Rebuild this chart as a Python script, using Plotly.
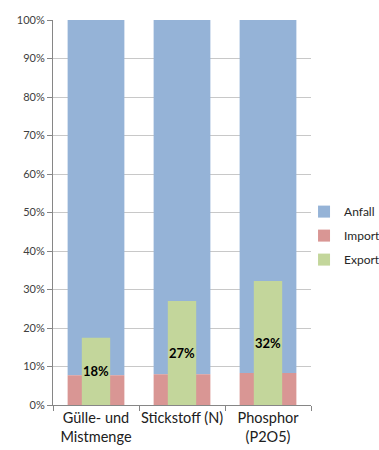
import plotly.graph_objects as go

categories = ["Gülle- und<br>Mistmenge", "Stickstoff (N)", "Phosphor<br>(P2O5)"]
import_vals = [7.7, 8.0, 8.3]
anfall_vals = [100 - v for v in import_vals]
export_vals = [17.5, 27.0, 32.2]
export_labels = ["18%", "27%", "32%"]

FONT = "Lato"

fig = go.Figure()
fig.add_trace(go.Bar(
    name="Anfall", x=categories, y=anfall_vals, base=import_vals,
    width=0.66, marker=dict(color="#95B3D7", line=dict(width=0)),
    legendgroup="a", hoverinfo="skip"))
fig.add_trace(go.Bar(
    name="Import", x=categories, y=import_vals,
    width=0.66, marker=dict(color="#D99694", line=dict(width=0)),
    legendgroup="b", hoverinfo="skip"))
fig.add_trace(go.Bar(
    name="Export", x=categories, y=export_vals,
    width=0.33, marker=dict(color="#C3D69B", line=dict(width=0)),
    text=export_labels, textposition="inside", insidetextanchor="middle",
    textangle=0, constraintext="none",
    textfont=dict(family=FONT, size=13, color="black", weight="bold"),
    legendgroup="c", hoverinfo="skip"))

fig.update_layout(
    barmode="overlay",
    width=379, height=450,
    margin=dict(l=53, r=68, t=20, b=45, autoexpand=False),
    paper_bgcolor="white", plot_bgcolor="white",
    font=dict(family=FONT, color="#404040"),
    showlegend=True,
    legend=dict(x=0.973, xanchor="left", y=0.44, yanchor="middle",
                font=dict(size=12, color="#262626"),
                tracegroupgap=5, itemwidth=30,
                bgcolor="rgba(0,0,0,0)"),
    xaxis=dict(type="category", range=[-0.5, 2.5], tickson="boundaries",
               ticks="outside", ticklen=5, tickcolor="#868686",
               showline=True, linecolor="#868686", linewidth=1,
               tickangle=0, automargin=False,
               tickfont=dict(size=14.5, color="#202020"), showgrid=False),
    yaxis=dict(range=[0, 100], dtick=10, ticksuffix="%",
               ticks="outside", ticklen=5, tickcolor="#868686",
               showline=True, linecolor="#868686", linewidth=1,
               showgrid=True, gridcolor="#C8C8C8", gridwidth=1,
               automargin=False,
               tickfont=dict(size=11, color="#404040"), zeroline=False),
)

fig.write_html("out.html")
